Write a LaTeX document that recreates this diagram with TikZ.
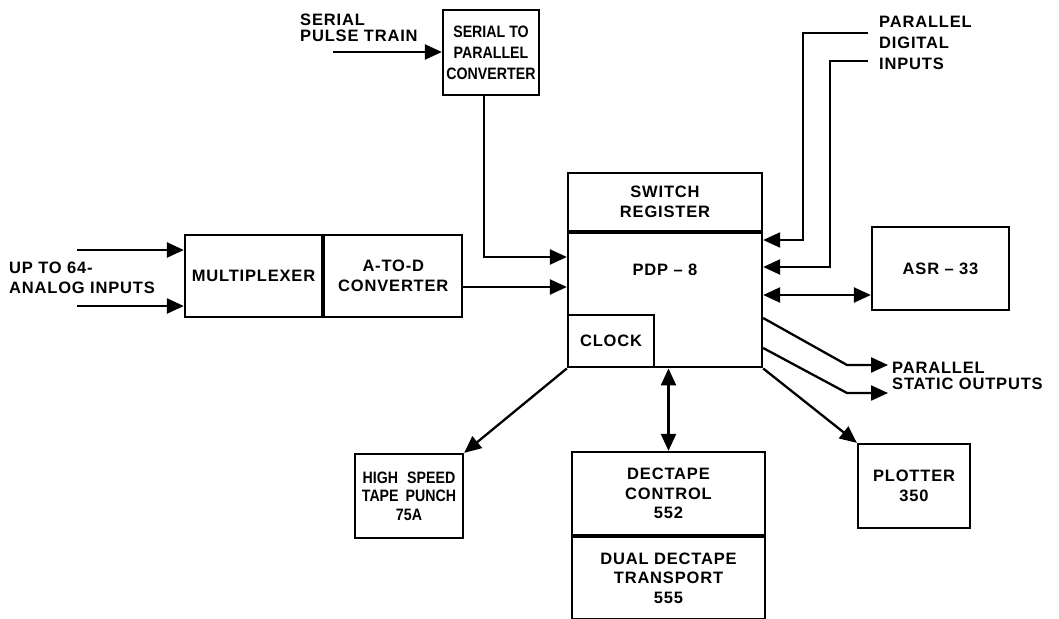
\documentclass[tikz,border=0pt]{standalone}
\usepackage{fontspec}
\setmainfont{Liberation Sans}[LetterSpace=5]
\newfontfamily\condfam{Liberation Sans}[FakeStretch=0.86]
\usetikzlibrary{arrows.meta}
\newcommand{\diaglbl}{\fontsize{16.5}{19.5}\selectfont\bfseries}
\newcommand{\smalllbl}{\condfam\fontsize{16.5}{21}\selectfont\bfseries}
\newcommand{\punchlbl}{\condfam\fontsize{16.5}{18.5}\selectfont\bfseries}
\begin{document}
\begin{tikzpicture}[x=1pt,y=-1pt,
  box/.style={draw, line width=2.3pt, inner sep=0pt, align=center, font=\diaglbl},
  txt/.style={inner sep=0pt, font=\diaglbl},
  conn/.style={line width=2.3pt},
  arr/.style={conn, -{Triangle[length=17pt,width=15pt]}},
  dbl/.style={conn, {Triangle[length=17pt,width=15pt]}-{Triangle[length=17pt,width=15pt]}}
]
\useasboundingbox (0,0) rectangle (1059,618);

% serial to parallel converter
\node[box, font=\smalllbl, minimum width=96pt, minimum height=85pt] (conv) at (491,52.5) {SERIAL TO\\PARALLEL\\CONVERTER};
\node[txt, anchor=west, align=left] (serin) at (300,28) {SERIAL\\[-3pt]PULSE TRAIN};
\coordinate (s0) at (333,52);
\draw[arr] (s0) -- (conv.west |- s0);

% PDP-8
\node[box, minimum width=194pt, minimum height=58pt] (sw) at (665,202) {SWITCH\\REGISTER};
\node[box, minimum width=194pt, minimum height=134pt, anchor=north] (pdp) at (sw.south) {};
\node[txt] (pdpl) at (665,270) {PDP -- 8};
\node[box, minimum width=86pt, minimum height=52pt, anchor=south west] (clock) at (pdp.south west) {CLOCK};

% multiplexer and A-to-D
\node[box, minimum width=137pt, minimum height=82pt] (mux) at (253.5,276) {MULTIPLEXER};
\node[box, minimum width=138pt, minimum height=82pt, anchor=west] (atod) at (mux.east) {A-TO-D\\CONVERTER};
\node[txt, anchor=west, align=left] (ain) at (9,278) {UP TO 64-\\ANALOG INPUTS};
\coordinate (a1) at (77,250);
\coordinate (a2) at (77,306);
\draw[arr] (a1) -- (mux.west |- a1);
\draw[arr] (a2) -- (mux.west |- a2);
\coordinate (o1) at (0,287);
\draw[arr] (atod.east |- o1) -- (pdp.west |- o1);

% converter to PDP-8
\coordinate (c1) at (484,257);
\draw[arr] (conv.south -| c1) -- (c1) -- (c1 -| pdp.west);

% parallel digital inputs
\node[txt, anchor=north west, align=left] (pdi) at (879,16) {PARALLEL\\[1.5pt]DIGITAL\\[1pt]INPUTS};
\coordinate (p1) at (868,33);
\coordinate (p1c) at (803,33);
\coordinate (p1e) at (803,240);
\coordinate (p2) at (868,61);
\coordinate (p2c) at (830,61);
\coordinate (p2e) at (830,267);
\draw[arr] (p1) -- (p1c) -- (p1e) -- (p1e -| pdp.east);
\draw[arr] (p2) -- (p2c) -- (p2e) -- (p2e -| pdp.east);

% ASR-33
\node[box, minimum width=137pt, minimum height=83pt] (asr) at (940.5,268.5) {ASR -- 33};
\coordinate (r1) at (0,295);
\draw[dbl] (pdp.east |- r1) -- (asr.west |- r1);

% parallel static outputs
\node[txt, anchor=west, align=left] (pso) at (892,376) {PARALLEL\\[-3pt]STATIC OUTPUTS};
\coordinate (q1s) at (0,318);
\coordinate (q1) at (847,365);
\coordinate (q1e) at (888,365);
\coordinate (q2s) at (0,348);
\coordinate (q2) at (847,393);
\coordinate (q2e) at (888,393);
\draw[arr] (pdp.east |- q1s) -- (q1) -- (q1e);
\draw[arr] (pdp.east |- q2s) -- (q2) -- (q2e);

% plotter
\node[box, minimum width=112pt, minimum height=84pt] (plot) at (914,486) {PLOTTER\\350};
\draw[arr] (pdp.south east) -- (plot.north west);

% tape punch
\node[box, font=\punchlbl, minimum width=108pt, minimum height=84pt] (punch) at (409,496) {HIGH\hspace{9pt}SPEED\\TAPE\hspace{7pt}PUNCH\\75A};
\draw[arr] (pdp.south west) -- (punch.north east);

% dectape
\node[box, minimum width=193pt, minimum height=83pt] (dect) at (668.5,493.5) {DECTAPE\\CONTROL\\552};
\node[box, minimum width=193pt, minimum height=82pt, anchor=north] (trans) at (dect.south) {DUAL DECTAPE\\TRANSPORT\\555};
\draw[dbl] (dect.north |- pdp.south) -- (dect.north);
\end{tikzpicture}
\end{document}
